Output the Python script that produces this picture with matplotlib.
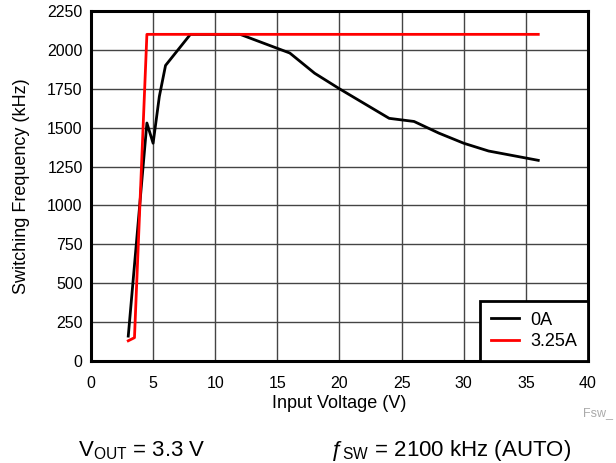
import matplotlib
matplotlib.use("Agg")
import matplotlib.pyplot as plt

plt.rcParams['font.family'] = ['Liberation Sans', 'DejaVu Sans']
plt.rcParams['mathtext.fontset'] = 'custom'
plt.rcParams['mathtext.rm'] = 'Liberation Sans'

# 0A load
vin_0a = [3, 4.5, 5, 5.5, 6, 8, 12, 16, 18, 20, 22, 24, 26, 28, 30, 32, 36]
fsw_0a = [160, 1530, 1400, 1700, 1900, 2100, 2100, 1980, 1850, 1750, 1655,
          1560, 1540, 1465, 1400, 1350, 1290]
# 3.25A load
vin_325a = [3, 3.5, 4.5, 36]
fsw_325a = [130, 150, 2100, 2100]

x_ticks = [0, 5, 10, 15, 20, 25, 30, 35, 40]
y_ticks = [0, 250, 500, 750, 1000, 1250, 1500, 1750, 2000, 2250]

fig = plt.figure(figsize=(6.16, 4.63), dpi=100)
ax = fig.add_axes([0.1477, 0.2203, 0.8068, 0.7559])

ax.plot(vin_0a, fsw_0a, color='black', lw=2, label='0A', zorder=3)
ax.plot(vin_325a, fsw_325a, color='#ff0000', lw=2, label='3.25A', zorder=3)

ax.set_xlim(0, 40)
ax.set_ylim(0, 2250)
ax.set_xticks(x_ticks)
ax.set_yticks(y_ticks)
ax.tick_params(labelsize=11.5, length=0)
ax.tick_params(axis='x', pad=10.5)
ax.tick_params(axis='y', pad=6)
ax.grid(True, color='#444444', lw=1)
ax.set_axisbelow(True)
for s in ax.spines.values():
    s.set_linewidth(2.2)

ax.set_xlabel('Input Voltage (V)', fontsize=13, labelpad=3)
ax.set_ylabel('Switching Frequency (kHz)', fontsize=13, labelpad=12)

leg = ax.legend(loc='lower right', fontsize=13, fancybox=False, framealpha=1,
                borderaxespad=0, handlelength=1.6, edgecolor='black',
                borderpad=0.6, labelspacing=0.25, handletextpad=0.6)
leg.get_frame().set_linewidth(2)

fig.text(0.995, 0.102, 'Fsw_', color='#aaaaaa', fontsize=9, ha='right')
fig.text(0.127, 0.015, 'V$_{\\mathrm{OUT}}$ = 3.3 V', fontsize=16)
fig.text(0.535, 0.015, 'ƒ$_{\\mathrm{SW}}$ = 2100 kHz (AUTO)', fontsize=16)

fig.savefig('out.png', dpi=100)
